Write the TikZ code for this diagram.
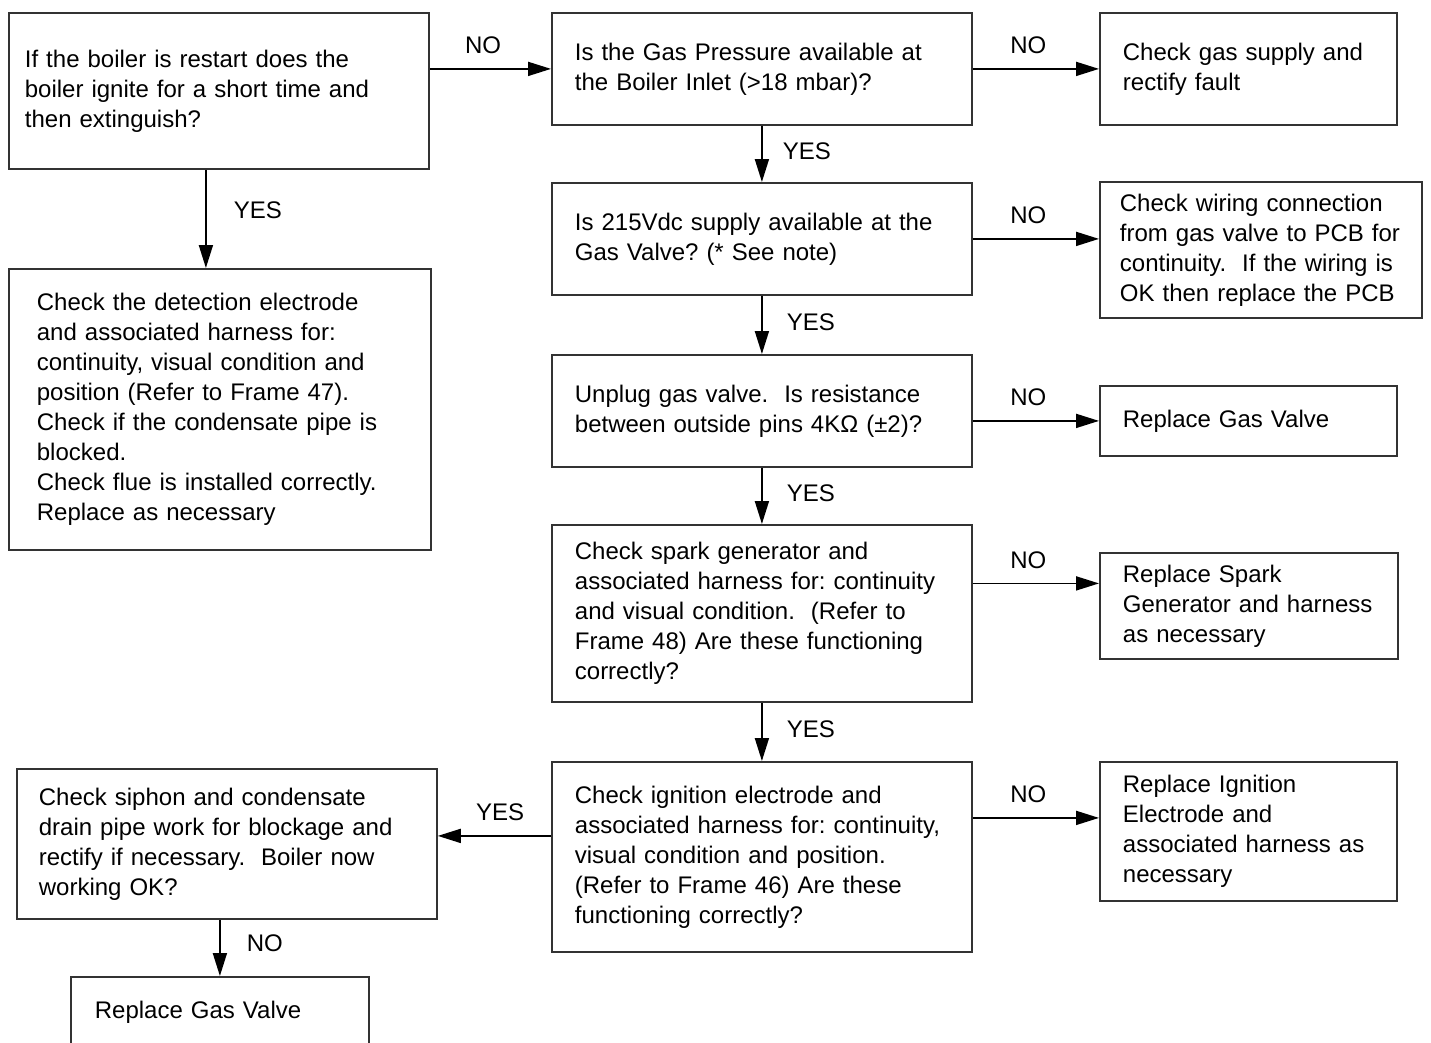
\documentclass[tikz,border=0pt]{standalone}
\usepackage{fontspec}
\setmainfont{Liberation Sans}
\usetikzlibrary{arrows.meta}

\begin{document}
\begin{tikzpicture}[x=1pt,y=-1pt,
    box/.style={draw=black!80, line width=1.8pt, rectangle, align=left, anchor=north west, inner ysep=0pt, font=\fontsize{24}{30}\selectfont\frenchspacing},
    arr/.style={line width=1.8pt, -{Triangle[length=23pt,width=14pt]}},
    lab/.style={inner sep=0pt, font=\fontsize{24}{30}\selectfont}]
        \useasboundingbox (0,0) rectangle (1431,1042);
        \clip (0,0) rectangle (1431,1042);

        \node[box, inner xsep=16pt, text width=388pt, minimum height=156pt] (restart) at (8,12)
            {If the boiler is restart does the\\boiler ignite for a short time and\\then extinguish?};
        \node[box, inner xsep=23pt, text width=374pt, minimum height=112pt] (gaspress) at (551,12)
            {Is the Gas Pressure available at\\the Boiler Inlet (>18 mbar)?};
        \node[box, inner xsep=23pt, text width=251pt, minimum height=112pt] (gassupply) at (1099,12)
            {Check gas supply and\\rectify fault};
        \node[box, inner xsep=23pt, text width=374pt, minimum height=112pt] (supply) at (551,182)
            {Is 215Vdc supply available at the\\Gas Valve? (* See note)};
        \node[box, inner xsep=20pt, text width=282pt, minimum height=136pt] (wiring) at (1099,181)
            {Check wiring connection\\from gas valve to PCB for\\continuity.\ \ If the wiring is\\OK then replace the PCB};
        \node[box, inner xsep=23pt, text width=374pt, minimum height=112pt] (valveres) at (551,354)
            {Unplug gas valve.\ \ Is resistance\\between outside pins 4KΩ (±2)?};
        \node[box, inner xsep=23pt, text width=251pt, minimum height=70pt] (replvalve) at (1099,385)
            {Replace Gas Valve};
        \node[box, inner xsep=23pt, text width=374pt, minimum height=177pt] (spark) at (551,524)
            {Check spark generator and\\associated harness for: continuity\\and visual condition.\ \ (Refer to\\Frame 48) Are these functioning\\correctly?};
        \node[box, inner xsep=23pt, text width=252pt, minimum height=106pt] (replspark) at (1099,552)
            {Replace Spark\\Generator and harness\\as necessary};
        \node[box, inner xsep=23pt, text width=374pt, minimum height=190pt] (ignition) at (551,761)
            {Check ignition electrode and\\associated harness for: continuity,\\visual condition and position.\\(Refer to Frame 46) Are these\\functioning correctly?};
        \node[box, inner xsep=23pt, text width=251pt, minimum height=139pt] (replelec) at (1099,761)
            {Replace Ignition\\Electrode and\\associated harness as\\necessary};
        \node[box, inner xsep=28pt, text width=366pt, minimum height=281pt] (detect) at (8,268)
            {Check the detection electrode\\and associated harness for:\\continuity, visual condition and\\position (Refer to Frame 47).\\Check if the condensate pipe is\\blocked.\\Check flue is installed correctly.\\Replace as necessary};
        \node[box, inner xsep=22pt, text width=376pt, minimum height=150pt] (siphon) at (16,768)
            {Check siphon and condensate\\drain pipe work for blockage and\\rectify if necessary.\ \ Boiler now\\working OK?};
        \node[box, inner xsep=24pt, text width=250pt, minimum height=70pt] (gasvalve) at (70,976)
            {Replace Gas Valve};

        \coordinate (restyes) at ([xshift=-13pt]restart.south);
        \coordinate (sparkno) at ([yshift=30pt]spark.east);
        \coordinate (ignno) at ([yshift=39pt]ignition.east);
        \coordinate (ignyes) at ([yshift=21pt]ignition.west);

        \draw[arr] (restart.east |- gaspress.west) -- (gaspress.west) node[lab, pos=0.44, above=14pt] {NO};
        \draw[arr] (gaspress.east) -- (gassupply.west) node[lab, pos=0.44, above=14pt] {NO};
        \draw[arr] (supply.east) -- (supply.east -| wiring.west) node[lab, pos=0.44, above=14pt] {NO};
        \draw[arr] (valveres.east |- replvalve.west) -- (replvalve.west) node[lab, pos=0.44, above=14pt] {NO};
        \draw[arr] (sparkno) -- (sparkno -| replspark.west) node[lab, pos=0.44, above=14pt] {NO};
        \draw[arr] (ignno) -- (ignno -| replelec.west) node[lab, pos=0.44, above=14pt] {NO};
        \draw[arr] (ignyes) -- (ignyes -| siphon.east) node[lab, pos=0.45, above=14pt] {YES};

        \draw[arr] (gaspress) -- (supply) node[lab, pos=0.45, right=20pt] {YES};
        \draw[arr] (supply) -- (valveres) node[lab, pos=0.45, right=24pt] {YES};
        \draw[arr] (valveres) -- (spark) node[lab, pos=0.45, right=24pt] {YES};
        \draw[arr] (spark) -- (ignition) node[lab, pos=0.45, right=24pt] {YES};
        \draw[arr] (restyes) -- (restyes |- detect.north) node[lab, pos=0.41, right=27pt] {YES};
        \draw[arr] (siphon.south -| gasvalve.north) -- (gasvalve.north) node[lab, pos=0.42, right=26pt] {NO};
    \end{tikzpicture}
\end{document}
